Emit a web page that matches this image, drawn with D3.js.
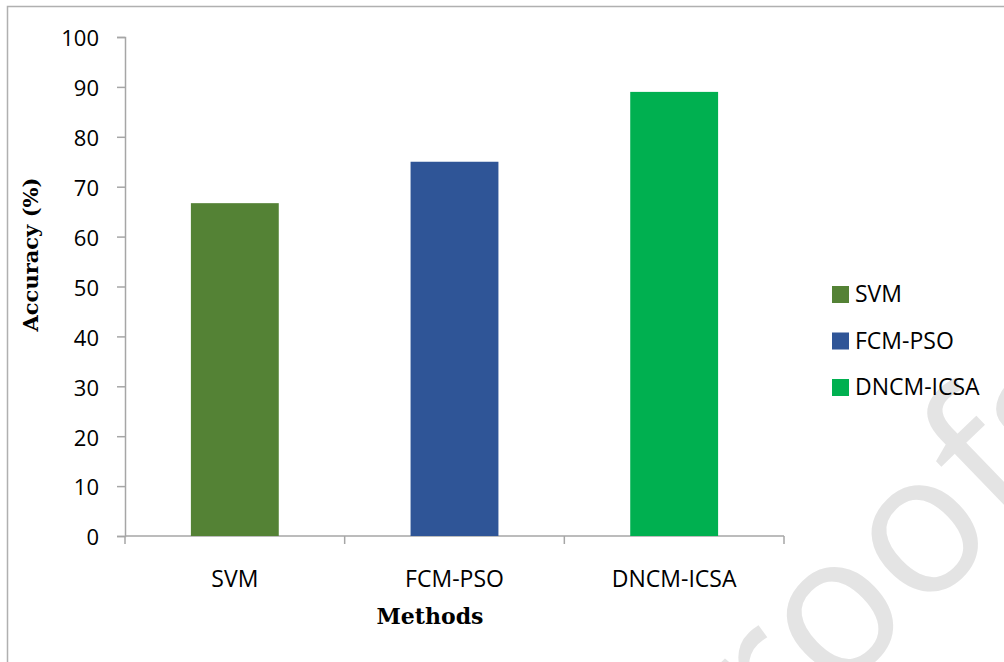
<!DOCTYPE html>
<meta charset="utf-8">
<script src="https://d3js.org/d3.v7.min.js"></script>
<style>
  body { margin: 0; background: #fff; }
  text { font-family: "Open Sans", sans-serif; }
</style>
<div id="my_dataviz"></div>
<script>
  // data
  var methods = ["SVM", "FCM-PSO", "DNCM-ICSA"];
  var accuracy = [66.7, 75, 89];
  var barColors = ["#548235", "#2f5597", "#00b050"];
  var yTicks = [0, 10, 20, 30, 40, 50, 60, 70, 80, 90, 100];

  var W = 1004, H = 662;
  var margin = { top: 37, right: 220, bottom: 126, left: 125 },
    width = W - margin.left - margin.right,
    height = H - margin.top - margin.bottom;

  var root = d3.select("#my_dataviz")
    .append("svg")
    .attr("width", W)
    .attr("height", H);

  // frame (right/bottom edges fall outside the picture)
  root.append("rect")
    .attr("x", 7.5).attr("y", 6.5)
    .attr("width", W + 20).attr("height", H + 20)
    .attr("fill", "none")
    .attr("stroke", "#b0b0b0")
    .attr("stroke-width", 1.5);

  // watermark, cut by the picture edge like in the source
  root.append("text")
    .attr("transform", "translate(690,838) rotate(-44)")
    .attr("fill", "#e4e4e4")
    .style("font-size", "196px")
    .style("font-family", "'Open Sans', sans-serif")
    .text("proofs");

  var svg = root.append("g")
    .attr("transform", "translate(" + margin.left + "," + margin.top + ")");

  var x = d3.scaleBand()
    .domain(methods)
    .range([0, width])
    .paddingInner(0.6)
    .paddingOuter(0.3);

  var y = d3.scaleLinear()
    .domain([0, 100])
    .range([height, 0]);

  // y axis
  var yAxis = svg.append("g")
    .call(d3.axisLeft(y).tickValues(yTicks).tickSize(8).tickSizeOuter(8).tickPadding(18));
  yAxis.selectAll("path, line").attr("stroke", "#a6a6a6").attr("stroke-width", 1.5);
  yAxis.selectAll("text").style("font-size", "22px").attr("fill", "#000")
    .style("font-family", "'Open Sans', sans-serif").attr("dy", "0.4em");

  // x axis: ticks at the band borders
  var xAxisG = svg.append("g")
    .attr("transform", "translate(0," + height + ")");
  xAxisG.append("line")
    .attr("x1", 0).attr("x2", width)
    .attr("stroke", "#a6a6a6").attr("stroke-width", 1.5);
  var borders = d3.range(methods.length + 1).map(function(i) { return i * width / methods.length; });
  xAxisG.selectAll(".xt")
    .data(borders)
    .enter()
    .append("line")
    .attr("x1", function(d) { return d; })
    .attr("x2", function(d) { return d; })
    .attr("y1", 0).attr("y2", 8)
    .attr("stroke", "#a6a6a6").attr("stroke-width", 1.5);
  xAxisG.selectAll(".xl")
    .data(methods)
    .enter()
    .append("text")
    .attr("x", function(d) { return x(d) + x.bandwidth() / 2; })
    .attr("y", 51)
    .attr("text-anchor", "middle")
    .style("font-size", "23px")
    .text(function(d) { return d; });

  // bars
  svg.selectAll(".bar")
    .data(methods)
    .enter()
    .append("rect")
    .attr("x", function(d) { return x(d); })
    .attr("y", function(d, i) { return y(accuracy[i]); })
    .attr("width", x.bandwidth())
    .attr("height", function(d, i) { return height - y(accuracy[i]); })
    .attr("fill", function(d, i) { return barColors[i]; });

  // axis titles
  svg.append("text")
    .attr("x", 305)
    .attr("y", height + 88)
    .attr("text-anchor", "middle")
    .style("font-family", "'DejaVu Serif', serif")
    .style("font-weight", "bold")
    .style("font-size", "22px")
    .text("Methods");

  svg.append("text")
    .attr("transform", "translate(-87," + (height / 2 - 32) + ") rotate(-90)")
    .attr("text-anchor", "middle")
    .style("font-family", "'DejaVu Serif', serif")
    .style("font-weight", "bold")
    .style("font-size", "21px")
    .text("Accuracy (%)");

  // legend
  var legend = root.append("g")
    .attr("transform", "translate(832,286)");
  var item = legend.selectAll(".item")
    .data(methods)
    .enter()
    .append("g")
    .attr("transform", function(d, i) { return "translate(0," + i * 46.5 + ")"; });
  item.append("rect")
    .attr("width", 17).attr("height", 17)
    .attr("fill", function(d, i) { return barColors[i]; });
  item.append("text")
    .attr("x", 23).attr("y", 16)
    .style("font-size", "23px")
    .text(function(d) { return d; });
</script>
